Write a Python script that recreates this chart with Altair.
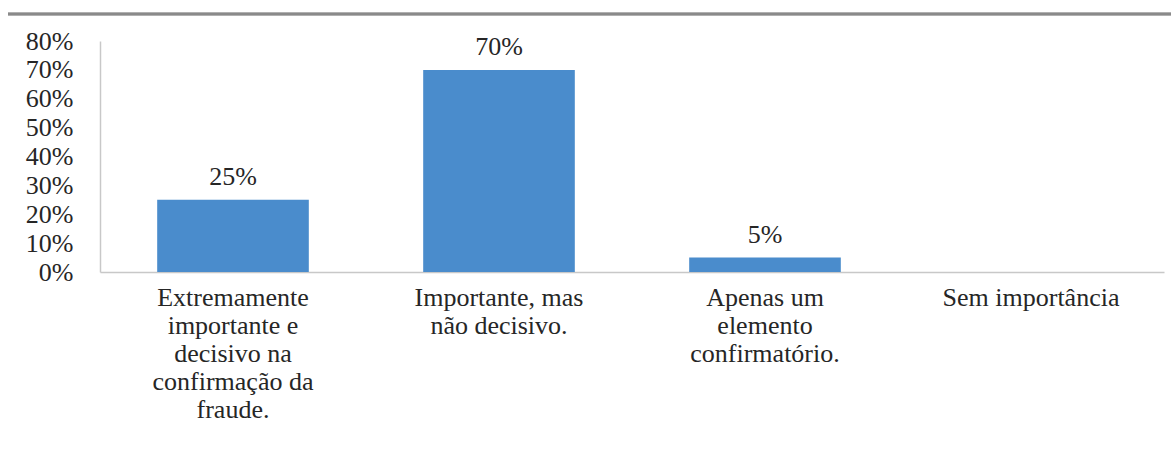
import altair as alt
import pandas as pd

categories = [
    "Extremamente|importante e|decisivo na|confirmação da|fraude.",
    "Importante, mas|não decisivo.",
    "Apenas um|elemento|confirmatório.",
    "Sem importância",
]
values = [0.25, 0.70, 0.05, None]
value_labels = ["25%", "70%", "5%", ""]
y_ticks = [0, 0.1, 0.2, 0.3, 0.4, 0.5, 0.6, 0.7, 0.8]

df = pd.DataFrame({"cat": categories, "val": values, "lab": value_labels})

FONT = "Times New Roman, Liberation Serif, DejaVu Serif, serif"
BAR = "#4a8ccc"
TXT = "#262626"

x = alt.X(
    "cat:N",
    sort=categories,
    title=None,
    scale=alt.Scale(paddingInner=0.43, paddingOuter=0.215),
    axis=alt.Axis(
        labelExpr="split(datum.label, '|')",
        labelAngle=0,
        labelFont=FONT,
        labelFontSize=26,
        labelColor=TXT,
        labelLineHeight=28,
        labelPadding=12,
        labelLimit=400,
        labelOverlap=False,
        ticks=False,
        domainColor="#c8c8c8",
        domainWidth=1.5,
        grid=False,
    ),
)

y = alt.Y(
    "val:Q",
    title=None,
    scale=alt.Scale(domain=[0, 0.8], nice=False),
    axis=alt.Axis(
        values=y_ticks,
        format=".0%",
        labelFont=FONT,
        labelFontSize=26,
        labelColor=TXT,
        labelPadding=27,
        labelOverlap=False,
        labelFlush=False,
        ticks=False,
        domainColor="#c8c8c8",
        domainWidth=1.5,
        grid=False,
    ),
)

bars = alt.Chart(df).mark_bar(color=BAR).encode(x=x, y=y)

texts = alt.Chart(df).mark_text(
    font=FONT, fontSize=26, color=TXT, baseline="bottom", dy=-10
).encode(x=x, y=y, text="lab:N")

border = alt.Chart(df).mark_rule(color="#8a8a8a", strokeWidth=2.5, clip=False).encode(
    x=alt.value(-92), x2=alt.value(1071), y=alt.value(-27)
)

chart = (
    alt.layer(bars, texts, border)
    .properties(
        width=1064,
        height=231,
        autosize=alt.AutoSizeParams(type="none"),
        padding={"left": 100, "top": 41, "right": 7, "bottom": 185},
        background="white",
    )
    .configure_view(stroke=None)
    .configure_axis(labelFont=FONT)
    .configure_text(font=FONT)
)

chart.save("out.html", embed_options={"renderer": "svg", "actions": False})
